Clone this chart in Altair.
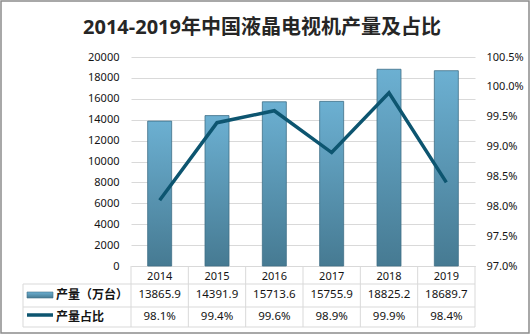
import altair as alt
import pandas as pd

# ---- data ----
years = ["2014", "2015", "2016", "2017", "2018", "2019"]
output = [13865.9, 14391.9, 15713.6, 15755.9, 18825.2, 18689.7]
share = [0.981, 0.994, 0.996, 0.989, 0.999, 0.984]
output_labels = ["13865.9", "14391.9", "15713.6", "15755.9", "18825.2", "18689.7"]
share_labels = ["98.1%", "99.4%", "99.6%", "98.9%", "99.9%", "98.4%"]
row_labels = ["产量（万台）", "产量占比"]
title_text = "2014-2019年中国液晶电视机产量及占比"
left_ticks = [0, 2000, 4000, 6000, 8000, 10000, 12000, 14000, 16000, 18000, 20000]
right_ticks = [0.97, 0.975, 0.98, 0.985, 0.99, 0.995, 1.0, 1.005]

df = pd.DataFrame({"year": years, "output": output, "share": share,
                   "out_lbl": output_labels, "share_lbl": share_labels})
one = pd.DataFrame({"d": [0]})

W, H = 344, 209
FONT = "'Noto Sans', 'Noto Sans CJK SC', sans-serif"
TXT = "#141414"
GRID = "#d9d9d9"
LINE = "#0d5570"

grad = alt.Gradient(
    gradient="linear",
    stops=[alt.GradientStop(color="#6cb0d2", offset=0),
           alt.GradientStop(color="#467a92", offset=1)],
    x1=0, x2=0, y1=0, y2=1)

base = alt.Chart(df)

xenc = alt.X("year:N", title=None,
             scale=alt.Scale(paddingInner=0, paddingOuter=0),
             axis=alt.Axis(ticks=False, labelAngle=0, labelPadding=4, labelFontSize=11,
                           labelFont=FONT, labelColor=TXT, domainColor=GRID, grid=False))

bars = base.mark_bar(size=24, fill=grad, stroke="#3f6f86", strokeWidth=0.8).encode(
    x=xenc,
    y=alt.Y("output:Q", title=None, scale=alt.Scale(domain=[0, 20000]),
            axis=alt.Axis(values=left_ticks, format="d", ticks=False, domain=False,
                          labelPadding=12, labelFontSize=11, labelFont=FONT,
                          labelColor=TXT, gridColor=GRID, gridWidth=1)))

line = base.mark_line(color=LINE, strokeWidth=3.5).encode(
    x=alt.X("year:N"),
    y=alt.Y("share:Q", title=None, scale=alt.Scale(domain=[0.97, 1.005]),
            axis=alt.Axis(orient="right", format=".1%", values=right_ticks, grid=False,
                          ticks=False, domain=False, labelPadding=11, labelFontSize=11,
                          labelFont=FONT, labelColor=TXT)))

# ---- data table below the plot ----
t_out = base.mark_text(fontSize=11.5, font=FONT, color=TXT).encode(
    x=alt.X("year:N"), y=alt.value(238), text="out_lbl:N")
t_share = base.mark_text(fontSize=11.5, font=FONT, color=TXT).encode(
    x=alt.X("year:N"), y=alt.value(260), text="share_lbl:N")

vlines = base.mark_rule(color=GRID, strokeWidth=1).encode(
    x=alt.X("year:N", bandPosition=0), y=alt.value(H), y2=alt.value(270))

deco = []
for yy in (227, 250, 270):
    deco.append(alt.Chart(one).mark_rule(color=GRID, strokeWidth=1).encode(
        x=alt.value(-108), x2=alt.value(W), y=alt.value(yy)))
deco.append(alt.Chart(one).mark_rule(color=GRID, strokeWidth=1).encode(
    x=alt.value(W), y=alt.value(H), y2=alt.value(270)))
deco.append(alt.Chart(one).mark_rule(color=GRID, strokeWidth=1).encode(
    x=alt.value(-108), y=alt.value(227), y2=alt.value(270)))

sw_bar = alt.Chart(one).mark_rect(fill=grad, stroke="#3f6f86", strokeWidth=0.6).encode(
    x=alt.value(-104), x2=alt.value(-78), y=alt.value(235), y2=alt.value(241))
sw_line = alt.Chart(one).mark_rule(color=LINE, strokeWidth=3.5).encode(
    x=alt.value(-104), x2=alt.value(-78), y=alt.value(258))

lbl1 = alt.Chart(one).mark_text(fontSize=12, font=FONT, fontWeight="bold", color=TXT,
                                align="left").encode(
    x=alt.value(-75), y=alt.value(238), text=alt.value(row_labels[0]))
lbl2 = alt.Chart(one).mark_text(fontSize=12, font=FONT, fontWeight="bold", color=TXT,
                                align="left").encode(
    x=alt.value(-75), y=alt.value(260), text=alt.value(row_labels[1]))

title = alt.Chart(one).mark_text(fontSize=20, font=FONT, fontWeight="bold",
                                 color="#262626", align="center", baseline="middle").encode(
    x=alt.value(131), y=alt.value(-29), text=alt.value(title_text))

frame = alt.Chart(one).mark_rect(fillOpacity=0, stroke="#8c8c8c", strokeWidth=1.5).encode(
    x=alt.value(-130), x2=alt.value(398), y=alt.value(-56), y2=alt.value(276))

chart = alt.layer(
    frame, bars, line, vlines, *deco, t_out, t_share, sw_bar, sw_line, lbl1, lbl2, title
).resolve_scale(y="independent").properties(
    width=W, height=H,
    autosize=alt.AutoSizeParams(type="none"),
    padding={"left": 131, "top": 57, "right": 56, "bottom": 68},
    background="white",
).configure_view(stroke=None)

chart.save("out.html", embed_options={"renderer": "svg", "actions": False})
